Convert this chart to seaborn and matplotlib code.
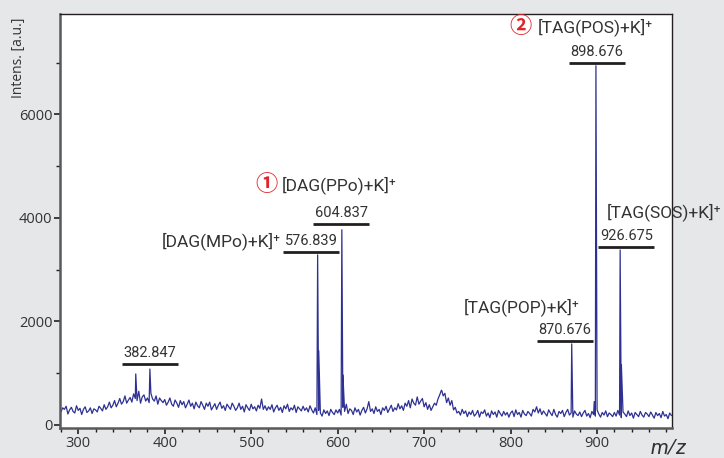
import numpy as np
import pandas as pd
import matplotlib.pyplot as plt
from matplotlib.ticker import MultipleLocator
import seaborn as sns

# --- adatok: zajos alapvonal (m/z 280..986, 2-es lépés) ---
base_start = 280
base_step = 2
baseline = [
    250, 330, 300, 360, 210, 290, 340, 260, 230, 370, 280, 320, 200, 300, 350, 240, 270, 330, 220, 310,
    290, 250, 360, 320, 270, 390, 300, 350, 440, 330, 380, 470, 350, 420, 510, 400, 450, 560, 420, 480,
    530, 440, 600, 510, 470, 650, 420, 540, 580, 460, 520, 430, 610, 500, 460, 560, 400, 520, 470, 430,
    490, 380, 440, 520, 400, 360, 480, 420, 340, 470, 390, 450, 330, 400, 480, 360, 420, 310, 440, 370,
    330, 450, 380, 300, 420, 360, 440, 290, 350, 410, 300, 380, 440, 320, 370, 280, 400, 350, 300, 420,
    360, 280, 330, 420, 300, 360, 250, 390, 330, 280, 400, 310, 350, 270, 380, 320, 500, 300, 370, 280,
    350, 300, 390, 250, 330, 380, 280, 340, 240, 370, 310, 400, 260, 330, 290, 380, 240, 350, 310, 270,
    360, 280, 330, 250, 370, 290, 230, 330, 200, 280, 230, 170, 290, 220, 270, 180, 300, 240, 200, 290,
    230, 300, 190, 340, 260, 400, 220, 310, 280, 200, 330, 250, 300, 190, 280, 340, 230, 310, 450, 260,
    310, 220, 350, 260, 300, 200, 330, 280, 360, 240, 310, 380, 260, 330, 290, 410, 310, 370, 280, 420,
    360, 470, 330, 500, 420, 380, 540, 400, 460, 510, 350, 430, 300, 390, 280, 350, 420, 380, 500, 580,
    670, 560, 610, 430, 520, 380, 470, 290, 340, 230, 260, 190, 300, 220, 270, 160, 250, 200, 280, 170,
    210, 280, 150, 250, 220, 290, 170, 230, 140, 270, 200, 250, 150, 280, 220, 170, 260, 190, 240, 150,
    230, 270, 160, 290, 200, 240, 150, 280, 210, 180, 260, 220, 170, 300, 250, 350, 230, 310, 200, 270,
    220, 170, 290, 230, 180, 300, 200, 150, 260, 220, 280, 160, 240, 300, 190, 230, 150, 270, 210, 180,
    250, 160, 230, 280, 170, 220, 140, 260, 200, 170, 290, 210, 150, 240, 190, 270, 160, 230, 200, 160,
    240, 170, 280, 190, 140, 250, 210, 160, 270, 180, 230, 130, 240, 200, 160, 260, 190, 150, 240, 210,
    160, 250, 190, 130, 240, 180, 220, 140, 260, 170, 200, 120, 230, 180,
]

# --- csúcsok ---
peak_mz = [366.5, 382.847, 576.839, 578.1, 604.837, 606.1, 720.5, 870.676, 896.7, 898.676, 926.675, 928.1]
peak_int = [985, 1080, 3285, 1435, 3770, 965, 660, 1565, 450, 6940, 3380, 1160]

# --- feliratok ---
label_text = ["382.847", "576.839", "604.837", "870.676", "898.676", "926.675"]
label_x = [382.6, 569.6, 603.9, 862.9, 899.8, 933.8]        # felirat közepe (m/z)
label_line_y = [1179, 3343, 3884, 1623, 6995, 3440]         # aláhúzás magassága

names = ["[DAG(MPo)+K]⁺", "[DAG(PPo)+K]⁺", "[TAG(POP)+K]⁺", "[TAG(POS)+K]⁺", "[TAG(SOS)+K]⁺"]
name_x = [534.7, 535.9, 745.7, 831.2, 910.7]
name_y = [3556, 4638, 2280, 7690, 4116]
name_ha = ["right", "left", "left", "left", "left"]
circles = ["①", "②"]
circle_x = [517.4, 812.0]
circle_y = [4638, 7690]

# spektrum összeállítása
base_mz = [base_start + base_step * i for i in range(len(baseline))]
df = pd.DataFrame({"mz": base_mz + peak_mz, "intens": baseline + peak_int})
df = df.sort_values("mz").reset_index(drop=True)

sns.set_theme(style="white")
plt.rcParams["font.family"] = ["Roboto", "DejaVu Sans"]

dark = "#231f20"
blue = "#2e3192"
red = "#e0262b"

fig = plt.figure(figsize=(7.24, 4.58), dpi=100, facecolor="#e6e7e8")
ax = fig.add_axes([0.083, 0.0655, 0.845, 0.904])
ax.set_facecolor("white")

sns.lineplot(data=df, x="mz", y="intens", estimator=None, sort=False,
             color=blue, lw=0.9, ax=ax)

ax.set_xlim(279, 986.5)
ax.set_ylim(-60, 7940)
ax.set_xlabel("")
ax.set_ylabel("")
ax.xaxis.set_major_locator(MultipleLocator(100))
ax.xaxis.set_minor_locator(MultipleLocator(20))
ax.yaxis.set_major_locator(MultipleLocator(2000))
ax.yaxis.set_minor_locator(MultipleLocator(1000))
ax.tick_params(which="major", direction="out", length=4, width=1.2, color=dark,
               labelsize=10.5, labelcolor="#333333", pad=1.5)
ax.tick_params(which="minor", direction="out", length=3, width=1.0, color=dark)
ax.tick_params(axis="x", which="both", bottom=True)
ax.tick_params(axis="y", which="both", left=True)
for lab in ax.get_xticklabels() + ax.get_yticklabels():
    lab.set_family(["Open Sans", "DejaVu Sans"])

for side in ["left", "bottom"]:
    ax.spines[side].set_color("#58595b")
    ax.spines[side].set_linewidth(1.8)
for side in ["top", "right"]:
    ax.spines[side].set_color(dark)
    ax.spines[side].set_linewidth(1.0)

# csúcs-értékek aláhúzással
for txt, x, y in zip(label_text, label_x, label_line_y):
    ax.plot([x - 32.5, x + 32.5], [y, y], color=dark, lw=2.0, solid_capstyle="butt")
    ax.annotate(txt, (x, y), xytext=(0, 8), textcoords="offset points",
                ha="center", va="center", fontsize=10.5, color="#333333")

for txt, x, y, ha in zip(names, name_x, name_y, name_ha):
    ax.text(x, y, txt, ha=ha, va="center", fontsize=12.5, color="#333333")

for txt, x, y in zip(circles, circle_x, circle_y):
    ax.text(x, y, txt, ha="center", va="center", fontsize=16, color=red,
            fontweight="bold", family=["Noto Sans CJK JP", "DejaVu Sans"])

fig.text(0.025, 0.962, "Intens. [a.u.]", rotation=90, ha="center", va="top",
         fontsize=10, color="#333333", family=["Open Sans", "DejaVu Sans"])
fig.text(0.923, 0.002, "m/z", ha="center", va="bottom", fontsize=15,
         style="italic", color="#333333")

plt.savefig("out.png", dpi=100, facecolor=fig.get_facecolor())
plt.close()
